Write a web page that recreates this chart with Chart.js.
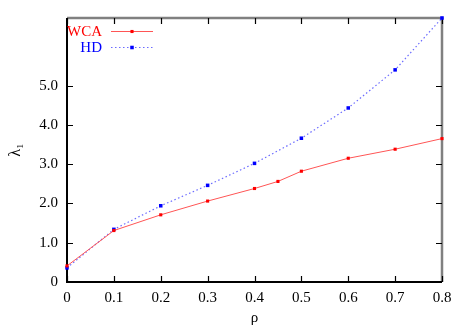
<!DOCTYPE html>
<html>
<head>
<meta charset="utf-8">
<script src="https://cdn.jsdelivr.net/npm/chart.js@4/dist/chart.umd.min.js"></script>
<style>
html,body{margin:0;padding:0;background:#fff;}
#c{display:block;}
</style>
</head>
<body>
<canvas id="c" width="466" height="327"></canvas>
<script>
const wcaX = [0, 0.1, 0.2, 0.3, 0.4, 0.45, 0.5, 0.6, 0.7, 0.8];
const wcaY = [0.41, 1.31, 1.71, 2.06, 2.38, 2.56, 2.82, 3.15, 3.38, 3.65];
const hdX = [0, 0.1, 0.2, 0.3, 0.4, 0.5, 0.6, 0.7, 0.8];
const hdY = [0.36, 1.34, 1.94, 2.46, 3.02, 3.66, 4.43, 5.40, 6.72];
const xTicks = [0, 0.1, 0.2, 0.3, 0.4, 0.5, 0.6, 0.7, 0.8];
const xTickLabels = ['0', '0.1', '0.2', '0.3', '0.4', '0.5', '0.6', '0.7', '0.8'];
const yTicks = [0, 1, 2, 3, 4, 5];
const yTickLabels = ['0', '1.0', '2.0', '3.0', '4.0', '5.0'];
const seriesLabels = ['WCA', 'HD'];

const FONT = 'Liberation Serif, Times New Roman, serif';

const frame = {
  id: 'frame',
  beforeDatasetsDraw(chart) {
    const {ctx, chartArea: a, scales} = chart;
    ctx.save();
    // gray border top/right
    ctx.strokeStyle = '#808080';
    ctx.lineWidth = 2.5;
    ctx.beginPath();
    ctx.moveTo(a.left, a.top);
    ctx.lineTo(a.right, a.top);
    ctx.lineTo(a.right, a.bottom);
    ctx.stroke();
    // black axes left/bottom
    ctx.strokeStyle = '#000';
    ctx.lineWidth = 2;
    ctx.beginPath();
    ctx.moveTo(a.left, a.top);
    ctx.lineTo(a.left, a.bottom);
    ctx.lineTo(a.right, a.bottom);
    ctx.stroke();
    // inward ticks
    ctx.lineWidth = 1.2;
    const L = 6;
    ctx.beginPath();
    scales.x.ticks.forEach(t => {
      const px = Math.round(scales.x.getPixelForValue(t.value)) + 0.5;
      ctx.moveTo(px, a.bottom); ctx.lineTo(px, a.bottom - L);
      ctx.moveTo(px, a.top); ctx.lineTo(px, a.top + L);
    });
    scales.y.ticks.forEach(t => {
      const py = Math.round(scales.y.getPixelForValue(t.value)) + 0.5;
      ctx.moveTo(a.left, py); ctx.lineTo(a.left + L, py);
      ctx.moveTo(a.right, py); ctx.lineTo(a.right - L, py);
    });
    ctx.stroke();
    ctx.restore();
  }
};

const legendPlug = {
  id: 'legendPlug',
  afterDatasetsDraw(chart) {
    const {ctx} = chart;
    ctx.save();
    ctx.font = '15px ' + FONT;
    ctx.textAlign = 'right';
    ctx.textBaseline = 'middle';
    const rows = [31, 47];
    chart.data.datasets.forEach((ds, i) => {
      const y = rows[i];
      ctx.fillStyle = ds.pointBackgroundColor;
      ctx.fillText(ds.label, 102, y + 1);
      ctx.strokeStyle = ds.borderColor;
      ctx.lineWidth = ds.borderWidth;
      ctx.setLineDash(ds.borderDash || []);
      ctx.beginPath();
      ctx.moveTo(111, y + 0.5);
      ctx.lineTo(153, y + 0.5);
      ctx.stroke();
      ctx.setLineDash([]);
      const s = ds.pointRadius * Math.SQRT1_2;
      ctx.fillRect(132 - s, y + 0.5 - s, 2 * s, 2 * s);
    });
    ctx.restore();
  }
};

new Chart(document.getElementById('c'), {
  type: 'line',
  data: {
    datasets: [
      {
        label: seriesLabels[0],
        data: wcaX.map((x, i) => ({x: x, y: wcaY[i]})),
        borderColor: '#ff5555',
        borderWidth: 1,
        pointStyle: 'rect',
        pointRadius: 2.2,
        pointBorderWidth: 0,
        pointBackgroundColor: '#ff0000',
        tension: 0,
        clip: false
      },
      {
        label: seriesLabels[1],
        data: hdX.map((x, i) => ({x: x, y: hdY[i]})),
        borderColor: '#6b6bff',
        borderWidth: 1.2,
        borderDash: [1.5, 2.5],
        pointStyle: 'rect',
        pointRadius: 2.5,
        pointBorderWidth: 0,
        pointBackgroundColor: '#0000ff',
        tension: 0,
        clip: false
      }
    ]
  },
  options: {
    responsive: false,
    animation: false,
    devicePixelRatio: 1,
    layout: {padding: {top: 18, right: 24, left: 0, bottom: 0}},
    plugins: {legend: {display: false}, tooltip: {enabled: false}},
    scales: {
      x: {
        type: 'linear',
        min: 0, max: 0.8,
        afterBuildTicks(s) { s.ticks = xTicks.map(v => ({value: v})); },
        afterFit(s) { s.height = 45; },
        grid: {display: false, drawTicks: false},
        border: {display: false},
        ticks: {
          padding: 7,
          color: '#000',
          font: {family: FONT, size: 15},
          maxRotation: 0,
          autoSkip: false,
          callback: (v, i) => xTickLabels[i]
        },
        title: {
          display: true, text: 'ρ', color: '#000',
          font: {family: FONT, size: 15},
          padding: {top: 0, bottom: 0}
        }
      },
      y: {
        type: 'linear',
        min: 0, max: 6.72,
        afterBuildTicks(s) { s.ticks = yTicks.map(v => ({value: v})); },
        afterFit(s) { s.width = 67; },
        grid: {display: false, drawTicks: false},
        border: {display: false},
        ticks: {
          padding: 9,
          color: '#000',
          font: {family: FONT, size: 15},
          autoSkip: false,
          callback: (v, i) => yTickLabels[i]
        },
        title: {
          display: true, text: 'λ₁', color: '#000',
          font: {family: FONT, size: 16},
          padding: {top: 6, bottom: 0}
        }
      }
    }
  },
  plugins: [frame, legendPlug]
});
</script>
</body>
</html>
